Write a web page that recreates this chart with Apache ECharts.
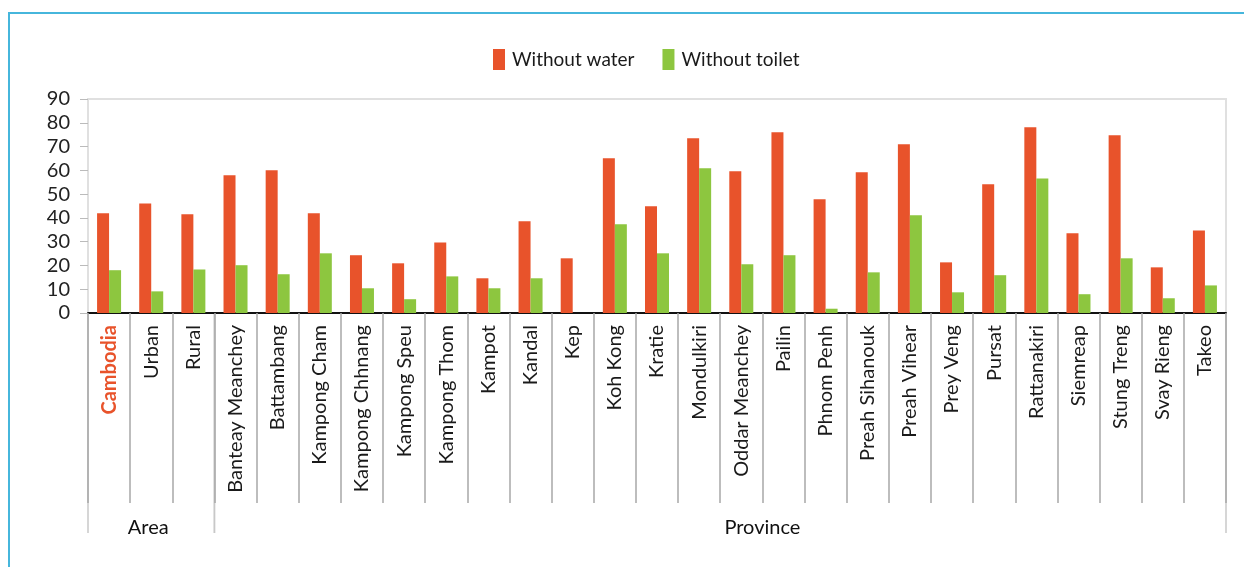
<!DOCTYPE html>
<html>
<head>
<meta charset="utf-8">
<script src="https://cdn.jsdelivr.net/npm/echarts@6/dist/echarts.min.js"></script>
<style>
  html, body { margin: 0; padding: 0; background: #fff; overflow: hidden; }
  #wrap { position: relative; width: 1244px; height: 567px; }
  #frame { position: absolute; left: 8px; top: 12px; width: 1250px; height: 570px;
           border-top: 2px solid #46B6DC; border-left: 2px solid #46B6DC; box-sizing: border-box; }
  #chart { position: absolute; left: 0; top: 0; width: 1244px; height: 567px; }
</style>
</head>
<body>
<div id="wrap">
  <div id="frame"></div>
  <div id="chart"></div>
</div>
<script>
const categories = ['Cambodia', 'Urban', 'Rural', 'Banteay Meanchey', 'Battambang', 'Kampong Cham',
  'Kampong Chhnang', 'Kampong Speu', 'Kampong Thom', 'Kampot', 'Kandal', 'Kep', 'Koh Kong', 'Kratie',
  'Mondulkiri', 'Oddar Meanchey', 'Pailin', 'Phnom Penh', 'Preah Sihanouk', 'Preah Vihear',
  'Prey Veng', 'Pursat', 'Rattanakiri', 'Siemreap', 'Stung Treng', 'Svay Rieng', 'Takeo'];
const withoutWater = [42, 46.1, 41.5, 57.9, 60, 42, 24.3, 20.9, 29.7, 14.6, 38.6, 23, 65.1, 44.9,
  73.5, 59.6, 76, 47.8, 59.2, 71, 21.3, 54.1, 78.1, 33.5, 74.8, 19.2, 34.7];
const withoutToilet = [18, 9.1, 18.3, 20.1, 16.3, 25.1, 10.4, 5.8, 15.4, 10.4, 14.6, 0, 37.3, 25.1,
  60.9, 20.5, 24.3, 1.8, 17.1, 41.1, 8.7, 15.9, 56.6, 7.9, 23, 6.2, 11.6];
const seriesNames = ['Without water', 'Without toilet'];
const groups = [{ name: 'Area', from: 0, to: 2 }, { name: 'Province', from: 3, to: 26 }];
const yMin = 0, yMax = 90, yStep = 10;

const FONT = 'Lato, "Open Sans", sans-serif';
const chart = echarts.init(document.getElementById('chart'), null, { renderer: 'canvas' });

const option = {
  animation: false,
  color: ['#E8532B', '#8DC63F'],
  legend: {
    top: 44, left: 488, itemWidth: 12, itemHeight: 21, itemGap: 28, icon: 'rect',
    textStyle: { fontFamily: FONT, fontSize: 19, color: '#1a1a1a', padding: [0, 0, 0, 2] },
    data: seriesNames
  },
  grid: { left: 88, right: 18, top: 99, bottom: 254, show: true, borderColor: '#e0e0e0', borderWidth: 2 },
  xAxis: {
    type: 'category', data: categories,
    axisLine: { lineStyle: { color: '#111', width: 2 } },
    axisTick: { show: true, interval: 0, length: 190, lineStyle: { color: '#a8a8a8', width: 1.5 } },
    axisLabel: {
      interval: 0, rotate: 90, margin: 12, fontFamily: FONT, fontSize: 20, color: '#1a1a1a',
      formatter: function (v) { return v === 'Cambodia' ? '{hl|' + v + '}' : v; },
      rich: { hl: { fontFamily: FONT, fontSize: 20, fontWeight: 'bold', color: '#E8532B' } }
    }
  },
  yAxis: {
    type: 'value', min: yMin, max: yMax, interval: yStep,
    axisLine: { show: false },
    axisTick: { show: true, length: 8, lineStyle: { color: '#bbb' } },
    splitLine: { show: false },
    axisLabel: { fontFamily: FONT, fontSize: 20, color: '#222', margin: 18 }
  },
  series: [
    { name: seriesNames[0], type: 'bar', data: withoutWater, barWidth: 12, barGap: '0%' },
    { name: seriesNames[1], type: 'bar', data: withoutToilet, barWidth: 12, barGap: '0%' }
  ]
};
chart.setOption(option);

// group separators and labels, positioned from the category scale
const p0 = chart.convertToPixel({ xAxisIndex: 0 }, 0);
const p1 = chart.convertToPixel({ xAxisIndex: 0 }, 1);
const band = p1 - p0;
const axisY = chart.convertToPixel({ yAxisIndex: 0 }, 0);
const graphics = [];
groups.forEach(function (g) {
  const xs = chart.convertToPixel({ xAxisIndex: 0 }, g.from) - band / 2;
  const xe = chart.convertToPixel({ xAxisIndex: 0 }, g.to) + band / 2;
  [xs, xe].forEach(function (x) {
    graphics.push({ type: 'line', silent: true, shape: { x1: x, y1: axisY, x2: x, y2: axisY + 220 },
      style: { stroke: '#c8c8c8', lineWidth: 1.5 } });
  });
});
graphics.push({ type: 'text', style: { text: groups[0].name, x: (chart.convertToPixel({ xAxisIndex: 0 }, 0) + chart.convertToPixel({ xAxisIndex: 0 }, 2)) / 2 - 3, y: axisY + 215,
  align: 'center', verticalAlign: 'middle', font: '20px ' + FONT, fill: '#111' } });
graphics.push({ type: 'text', style: { text: groups[1].name, x: chart.convertToPixel({ xAxisIndex: 0 }, 15) + band / 2, y: axisY + 215,
  align: 'center', verticalAlign: 'middle', font: '20px ' + FONT, fill: '#111' } });
chart.setOption({ graphic: graphics });
</script>
</body>
</html>
